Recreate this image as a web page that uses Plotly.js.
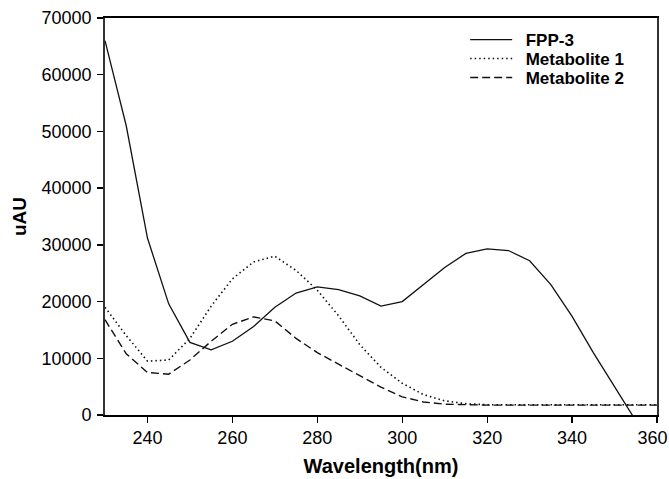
<!DOCTYPE html>
<html>
<head>
<meta charset="utf-8">
<script src="https://cdn.plot.ly/plotly-3.0.1.min.js"></script>
<style>html,body{margin:0;padding:0;background:#fff;}#chart{width:669px;height:479px;}</style>
</head>
<body>
<div id="chart"></div>
<script>
const wavelength = [230,235,240,245,250,255,260,265,270,275,280,285,290,295,300,305,310,315,320,325,330,335,340,345,350,355,360];
const fpp3 =       [66000,51000,31200,19600,12800,11500,13000,15600,19000,21500,22600,22100,21000,19200,20000,23000,26000,28500,29300,29000,27200,23000,17400,11000,4900,-1000,null];
const metabolite1 = [19000,14000,9500,9700,13500,19200,24000,27000,28000,25500,22000,17500,12400,8400,5600,3600,2500,2000,1800,1800,1800,1800,1800,1800,1800,1800,1800];
const metabolite2 = [16800,10800,7500,7200,9700,13000,16000,17300,16600,13500,11000,9000,6900,4900,3200,2300,1900,1800,1750,1750,1750,1750,1750,1750,1750,1750,1750];
const seriesNames = ['FPP-3','Metabolite 1','Metabolite 2'];
const xTicks = [240,260,280,300,320,340,360];
const yTicks = [0,10000,20000,30000,40000,50000,60000,70000];

const F = 'Liberation Sans, Arial, Helvetica, sans-serif';
const traces = [
  {x: wavelength, y: fpp3, name: '\u2002' + seriesNames[0], mode: 'lines', legend: 'legend',
   line: {color: '#111', width: 1.3, dash: 'solid'}},
  {x: wavelength, y: metabolite1, name: '\u2002' + seriesNames[1], mode: 'lines', legend: 'legend2',
   line: {color: '#111', width: 1.6, dash: '1.5px,3px'}},
  {x: wavelength, y: metabolite2, name: '\u2002' + seriesNames[2], mode: 'lines', legend: 'legend3',
   line: {color: '#111', width: 1.4, dash: '8px,4px'}}
];
const legBase = {xref: 'paper', yref: 'paper', xanchor: 'left', yanchor: 'middle',
  bgcolor: 'rgba(0,0,0,0)', borderwidth: 0, itemwidth: 42,
  font: {family: F, size: 17, color: '#000', weight: 'bold'}};
const plotL = 104.5, plotR = 657, plotT = 18, plotB = 415;
function px2x(p){ return (p - plotL) / (plotR - plotL); }
function px2y(p){ return (plotB - p) / (plotB - plotT); }
// last label nudged left (as in the reference) so it stays inside the picture
const xTickText = xTicks.map((v, i) => i === xTicks.length - 1 ? String(v) + '\u2002' : String(v));
const layout = {
  width: 669, height: 479,
  margin: {l: plotL, r: 669 - plotR, t: plotT, b: 479 - plotB, pad: 0},
  paper_bgcolor: '#fff', plot_bgcolor: '#fff',
  font: {family: F, color: '#000'},
  showlegend: true,
  legend: Object.assign({}, legBase, {x: px2x(465), y: px2y(40)}),
  legend2: Object.assign({}, legBase, {x: px2x(465), y: px2y(59)}),
  legend3: Object.assign({}, legBase, {x: px2x(465), y: px2y(78)}),
  xaxis: {
    range: [230, 360], tickvals: xTicks, ticktext: xTickText,
    ticks: 'outside', ticklen: 6, tickwidth: 1.3, tickcolor: '#000',
    showline: true, linecolor: '#000', linewidth: 1.8, mirror: true,
    showgrid: false, zeroline: false, ticklabeloverflow: 'allow',
    tickfont: {family: F, size: 18, color: '#000'},
    title: {text: 'Wavelength(nm)', font: {family: F, size: 20, color: '#000', weight: 'bold'}, standoff: 11}
  },
  yaxis: {
    range: [0, 70000], tickvals: yTicks, ticktext: yTicks.map(String),
    ticks: 'outside', ticklen: 6, tickwidth: 1.3, tickcolor: '#000',
    showline: true, linecolor: '#333', linewidth: 1.8, mirror: true,
    showgrid: false, zeroline: false, ticklabeloverflow: 'allow',
    ticklabelstandoff: 2,
    tickfont: {family: F, size: 18, color: '#000'},
    title: {text: 'uAU', font: {family: F, size: 19, color: '#000', weight: 'bold'}, standoff: 10}
  }
};
Plotly.newPlot('chart', traces, layout, {displayModeBar: false, staticPlot: true});
</script>
</body>
</html>
